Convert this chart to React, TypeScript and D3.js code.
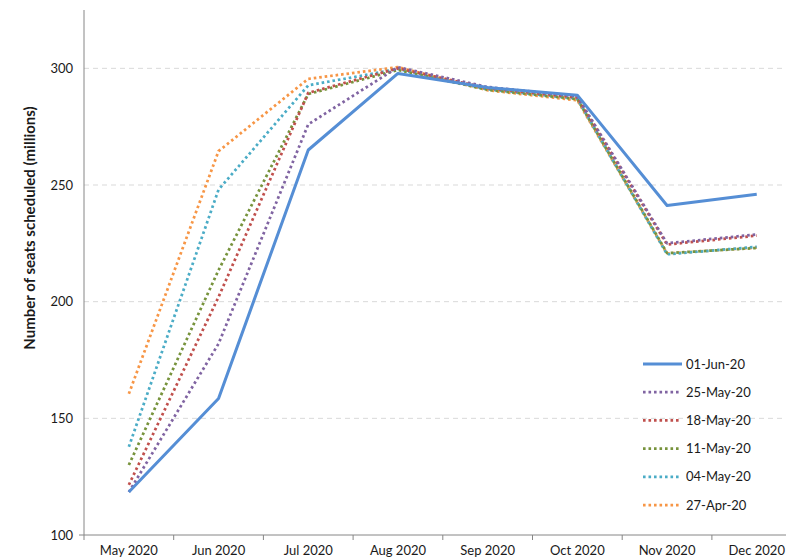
import React from "react";
import * as d3 from "d3";

const months = ["May 2020", "Jun 2020", "Jul 2020", "Aug 2020", "Sep 2020", "Oct 2020", "Nov 2020", "Dec 2020"];
const yTicks = [100, 150, 200, 250, 300];

const jun01 = [118.4, 158.5, 265, 297.8, 291.8, 288.5, 241.2, 246];
const may25 = [118.4, 182, 276, 300.5, 292, 288, 225, 228.8];
const may18 = [121.5, 202, 289.5, 300, 291.5, 287.5, 224.5, 228.3];
const may11 = [130, 213.5, 289, 299.3, 290.8, 286.8, 220.8, 223];
const may04 = [137.8, 248, 292.7, 299.7, 291, 287, 220.3, 223.5];
const apr27 = [160.5, 264.5, 295.5, 300.5, 290.6, 286.3, 220.6, 223.2];

const seriesNames = ["01-Jun-20", "25-May-20", "18-May-20", "11-May-20", "04-May-20", "27-Apr-20"];
const seriesValues = [jun01, may25, may18, may11, may04, apr27];
const seriesColors = ["#558ED5", "#8064A2", "#C0504D", "#77933C", "#4BACC6", "#F79646"];

const W = 786;
const H = 559;
const left = 84;
const bandW = 89.7;
const top = 10;
const bottom = 535;
const font = "Lato, 'Open Sans', sans-serif";

export default function App() {
  const x = d3
    .scaleBand<string>()
    .domain(months)
    .range([left, left + bandW * months.length]);
  const y = d3.scaleLinear().domain([100, 325]).range([bottom, top]);
  const line = d3
    .line<number>()
    .x((_, i) => (x(months[i]) as number) + x.bandwidth() / 2)
    .y((d) => y(d));

  const legX = 643;
  const legY0 = 364;
  const legStep = 28.2;

  const order = [5, 4, 3, 2, 1, 0];

  return (
    <svg width={W} height={H} style={{ position: "absolute", left: 0, top: 0, background: "#fff" }} fontFamily={font}>
      {yTicks.slice(1).map((t) => (
        <line key={t} x1={left} x2={W} y1={y(t)} y2={y(t)} stroke="#D9D9D9" strokeWidth={1} strokeDasharray="5 4" />
      ))}
      {yTicks.map((t) => (
        <text key={t} x={73} y={y(t)} dy="0.35em" textAnchor="end" fontSize={13} fill="#1a1a1a">
          {t}
        </text>
      ))}
      <line x1={left} x2={left} y1={top} y2={bottom} stroke="#868686" strokeWidth={1} />
      <line x1={left - 5} x2={W} y1={bottom} y2={bottom} stroke="#868686" strokeWidth={1} />
      {months.map((m, i) => (
        <line
          key={"t" + m}
          x1={left + i * bandW}
          x2={left + i * bandW}
          y1={bottom}
          y2={bottom + 5}
          stroke="#868686"
          strokeWidth={1}
        />
      ))}
      {months.map((m) => (
        <text
          key={m}
          x={(x(m) as number) + x.bandwidth() / 2}
          y={555}
          textAnchor="middle"
          fontSize={13}
          fill="#1a1a1a"
        >
          {m}
        </text>
      ))}
      <text
        transform={`translate(35,${228}) rotate(-90)`}
        textAnchor="middle"
        fontSize={15}
        fontWeight="bold"
        fill="#1a1a1a"
      >
        Number of seats scheduled (millions)
      </text>
      {order.map((k) => (
        <path
          key={seriesNames[k]}
          d={line(seriesValues[k]) || ""}
          fill="none"
          stroke={seriesColors[k]}
          strokeWidth={k === 0 ? 3 : 2.75}
          strokeDasharray={k === 0 ? undefined : "2.6 2.9"}
          strokeLinejoin="round"
        />
      ))}
      {seriesNames.map((n, k) => (
        <g key={"leg" + n}>
          <line
            x1={legX}
            x2={legX + (k === 0 ? 39 : 36)}
            y1={legY0 + k * legStep}
            y2={legY0 + k * legStep}
            stroke={seriesColors[k]}
            strokeWidth={k === 0 ? 3 : 2.75}
            strokeDasharray={k === 0 ? undefined : "2.6 2.9"}
          />
          <text x={legX + 43} y={legY0 + k * legStep} dy="0.35em" fontSize={13} fill="#1a1a1a">
            {n}
          </text>
        </g>
      ))}
    </svg>
  );
}
